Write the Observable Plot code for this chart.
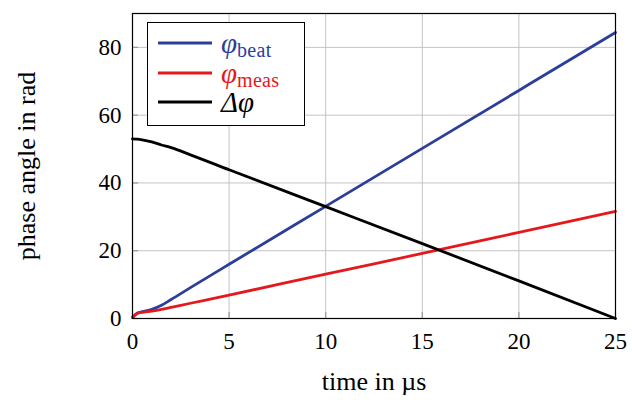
<!DOCTYPE html>
<html>
<head>
<meta charset="utf-8">
<script src="https://cdn.jsdelivr.net/npm/d3@7"></script>
<script src="https://cdn.jsdelivr.net/npm/@observablehq/plot@0.6"></script>
<style>
  body { margin: 0; background: #fff; }
  #wrap { position: relative; width: 632px; height: 400px; font-family: "Liberation Serif", "DejaVu Serif", serif; }
  #legend { position: absolute; left: 147px; top: 22px; width: 158px; height: 104px; box-sizing: border-box;
            border: 1.2px solid #000; background: #fff; }
  .row { position: absolute; left: 10px; height: 24px; display: flex; align-items: center; font-size: 29px; line-height: 24px; }
  .row svg { margin-right: 9px; }
  .row sub { font-size: 20px; vertical-align: -4px; line-height: 0; letter-spacing: 0.3px; }
  svg g[aria-label="x-axis label"] text, svg g[aria-label="y-axis label"] text { letter-spacing: 1.2px; }
</style>
</head>
<body>
<div id="wrap"></div>
<script>
// time in µs
const time  = [0, 0.25, 0.5, 1, 1.5, 2, 3, 5, 10, 15, 20, 25];
// phase angles in rad
const beat  = [0.3, 1.6, 2.0, 2.7, 3.9, 5.6, 9.1, 16.0, 33.1, 50.2, 67.3, 84.4];
const meas  = [0.3, 1.5, 1.8, 2.2, 2.7, 3.3, 4.5, 6.9, 13.1, 19.2, 25.4, 31.6];
const delta = [53.0, 52.9, 52.7, 52.1, 51.2, 50.4, 48.3, 43.9, 33.0, 22.1, 11.1, 0.0];

const xTicks = [0, 5, 10, 15, 20, 25];
const yTicks = [0, 20, 40, 60, 80];

const seriesNames = ["beat", "meas", "delta"];
const seriesColors = ["#2c3e9c", "#e4191d", "#000000"];
const seriesValues = [beat, meas, delta];

const rows = [];
seriesNames.forEach((s, i) => time.forEach((t, j) => rows.push({series: s, t, v: seriesValues[i][j]})));

const plot = Plot.plot({
  width: 632,
  height: 400,
  marginLeft: 132,
  marginRight: 17,
  marginTop: 13,
  marginBottom: 82,
  style: { fontFamily: '"Liberation Serif", "DejaVu Serif", serif', fontSize: "23px", color: "#000", background: "#fff" },
  x: { domain: [0, 25] },
  y: { domain: [0, 90] },
  color: { domain: seriesNames, range: seriesColors },
  marks: [
    Plot.gridX(xTicks, { stroke: "#c4c4c4", strokeOpacity: 1, strokeWidth: 1 }),
    Plot.gridY(yTicks, { stroke: "#c4c4c4", strokeOpacity: 1, strokeWidth: 1 }),
    Plot.axisX(xTicks, { tickSize: -6, text: null, label: null, stroke: "#999", strokeWidth: 1.2 }),
    Plot.axisY(yTicks, { tickSize: -6, text: null, label: null, stroke: "#999", strokeWidth: 1.2 }),
    Plot.axisX(xTicks, { tickSize: 0, tickPadding: 14, label: null, fontSize: 23 }),
    Plot.axisY(yTicks, { tickSize: 0, tickPadding: 11, label: null, fontSize: 23 }),
    Plot.axisX({ tickSize: 0, ticks: [], label: "time in µs", labelAnchor: "center", labelArrow: "none", labelOffset: 71, fontSize: 26, ariaLabel: "x-axis label" }),
    Plot.axisY({ tickSize: 0, ticks: [], label: "phase angle in rad", labelAnchor: "center", labelArrow: "none", labelOffset: 116, fontSize: 26, ariaLabel: "y-axis label" }),
    Plot.line(rows, { x: "t", y: "v", z: "series", stroke: "series", strokeWidth: 2.8, curve: "monotone-x" }),
    Plot.frame({ stroke: "#000", strokeWidth: 1.2 })
  ]
});

const wrap = document.getElementById("wrap");
wrap.appendChild(plot);

const legend = document.createElement("div");
legend.id = "legend";
const labels = [
  '<i>φ</i><sub>beat</sub>',
  '<i>φ</i><sub>meas</sub>',
  '<i>Δφ</i>'
];
seriesNames.forEach((s, i) => {
  const r = document.createElement("div");
  r.className = "row";
  r.style.top = (8 + i * 29.7) + "px";
  r.style.color = seriesColors[i];
  r.innerHTML = `<svg width="54" height="6"><line x1="0" y1="3" x2="54" y2="3" stroke="${seriesColors[i]}" stroke-width="2.8"/></svg><span>${labels[i]}</span>`;
  legend.appendChild(r);
});
wrap.appendChild(legend);
</script>
</body>
</html>
